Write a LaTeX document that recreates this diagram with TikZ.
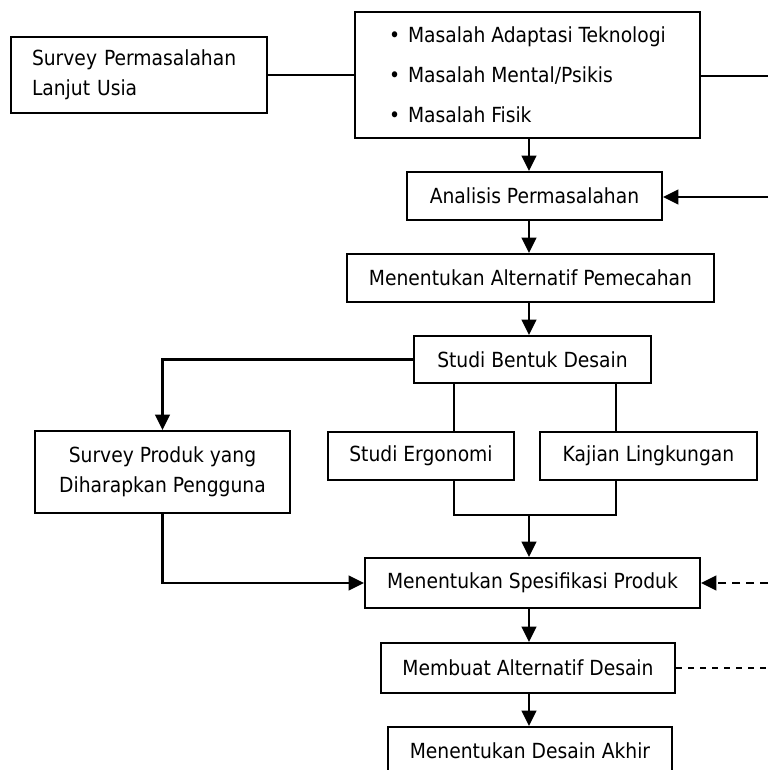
\documentclass[tikz,border=0pt]{standalone}
\usepackage{fontspec}
\setmainfont{DejaVu Sans Condensed}
\usetikzlibrary{arrows.meta}

\newcommand{\butir}{\makebox[14.25pt][l]{\textbullet}}

\begin{document}
\begin{tikzpicture}[x=0.75pt, y=-0.75pt]
  \tikzstyle{kotak}=[draw, line width=1.5pt, inner sep=0pt, minimum height=36pt, font=\fontsize{15.6pt}{22.5pt}\selectfont]
  \tikzstyle{garis}=[line width=1.7pt]
  \tikzstyle{panah}=[garis, -{Triangle[length=11.5pt, width=11pt]}]
  \tikzstyle{putus}=[panah, dash pattern=on 6pt off 4.5pt]
  \tikzstyle{putustipis}=[line width=0.9pt, dash pattern=on 4.5pt off 4.5pt]

  \useasboundingbox (0,0) rectangle (768,770);
  \clip (0,0) rectangle (768,770);

  \node[kotak, minimum width=192pt, minimum height=57pt, text width=160.5pt, align=left] (survey) at (139,75) {Survey Permasalahan\\Lanjut Usia};
  \node[kotak, minimum width=258.75pt, minimum height=94.5pt, align=left, font=\fontsize{15.6pt}{30pt}\selectfont] (masalah) at (527.5,75)
    {\butir Masalah Adaptasi Teknologi\\\butir Masalah Mental/Psikis\\\butir Masalah Fisik};
  \node[kotak, minimum width=191.25pt]                      (analisis)    at (534.5,196)   {Analisis Permasalahan};
  \node[kotak, minimum width=275.25pt]                      (alternatif)  at (530.5,278)   {Menentukan Alternatif Pemecahan};
  \node[kotak, minimum width=177.75pt, minimum height=35.25pt] (bentuk)   at (532.5,359.5) {Studi Bentuk Desain};
  \node[kotak, minimum width=191.25pt, minimum height=61.5pt, align=center] (produk) at (162.5,472) {Survey Produk yang\\Diharapkan Pengguna};
  \node[kotak, minimum width=139.5pt]                       (ergonomi)    at (421,456)     {Studi Ergonomi};
  \node[kotak, minimum width=162.75pt]                      (lingkungan)  at (648.5,456)   {Kajian Lingkungan};
  \node[kotak, minimum width=251.25pt, minimum height=37.5pt] (spesifikasi) at (532.5,583) {Menentukan Spesifikasi Produk};
  \node[kotak, minimum width=220.5pt, minimum height=37.5pt]  (membuat)   at (528,668)     {Membuat Alternatif Desain};
  \node[kotak, minimum width=213pt]                         (akhir)       at (530,751)     {Menentukan Desain Akhir};

  % titik bantu
  \coordinate (sumbu)   at (529,0);
  \coordinate (cabang1) at (454,0);
  \coordinate (cabang2) at (616,0);
  \coordinate (bawah)   at (0,515);
  \coordinate (tepi1)   at (768,76);
  \coordinate (tepi2)   at (768,197);
  \coordinate (tepi3)   at (768,583);
  \coordinate (tepi4)   at (768,668);

  \draw[garis] (survey.east) -- (masalah.west);
  \draw[garis] (masalah.east |- tepi1) -- (tepi1);
  \draw[panah] (sumbu |- masalah.south) -- (sumbu |- analisis.north);
  \draw[panah] (tepi2) -- (tepi2 -| analisis.east);
  \draw[panah] (sumbu |- analisis.south) -- (sumbu |- alternatif.north);
  \draw[panah] (sumbu |- alternatif.south) -- (sumbu |- bentuk.north);
  \draw[panah] (bentuk.west) -| (produk.north);
  \draw[garis] (cabang1 |- bentuk.south) -- (cabang1 |- ergonomi.north);
  \draw[garis] (cabang2 |- bentuk.south) -- (cabang2 |- lingkungan.north);
  \draw[garis] (cabang1 |- ergonomi.south) -- (cabang1 |- bawah) -- (cabang2 |- bawah) -- (cabang2 |- lingkungan.south);
  \draw[panah] (sumbu |- bawah) -- (sumbu |- spesifikasi.north);
  \draw[panah] (produk.south) |- (spesifikasi.west);
  \draw[putus] (tepi3) -- (spesifikasi.east);
  \draw[panah] (sumbu |- spesifikasi.south) -- (sumbu |- membuat.north);
  \draw[putustipis] (membuat.east) -- (tepi4);
  \draw[panah] (sumbu |- membuat.south) -- (sumbu |- akhir.north);
\end{tikzpicture}
\end{document}
